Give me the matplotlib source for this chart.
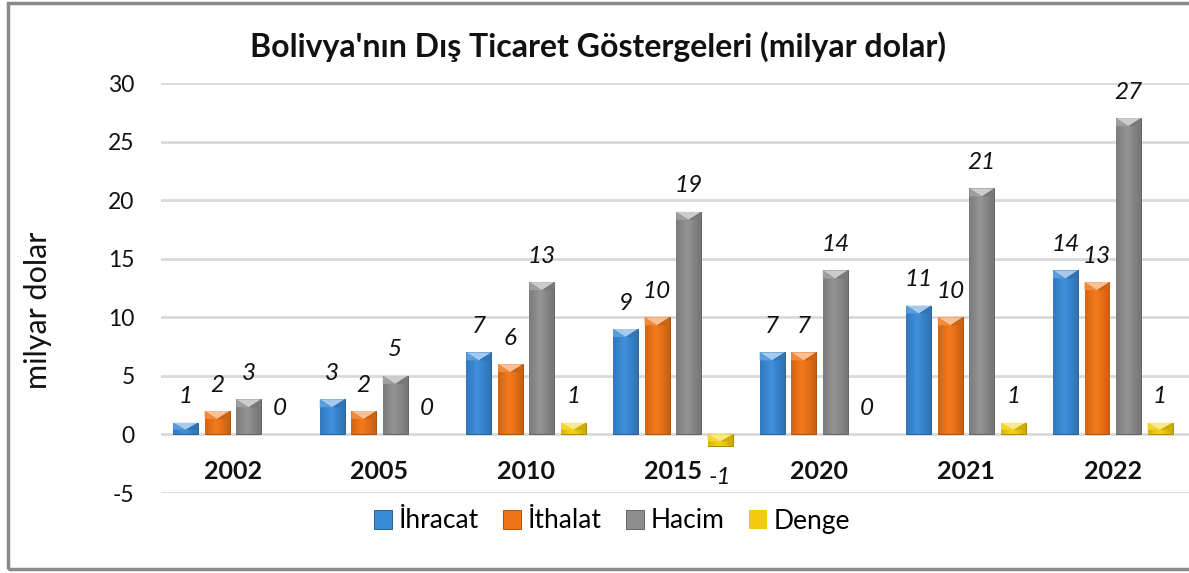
import matplotlib.pyplot as plt
from matplotlib.patches import Polygon, Rectangle
from matplotlib.colors import to_rgb
import numpy as np

years = ['2002', '2005', '2010', '2015', '2020', '2021', '2022']
ihracat = [1, 3, 7, 9, 7, 11, 14]
ithalat = [2, 2, 6, 10, 7, 10, 13]
hacim = [3, 5, 13, 19, 14, 21, 27]
denge = [0, 0, 1, -1, 0, 1, 1]

series = [
    ('İhracat', ihracat, '#3a8ad6'),
    ('İthalat', ithalat, '#ef7417'),
    ('Hacim', hacim, '#8e8e8e'),
    ('Denge', denge, '#f2cc0c'),
]

plt.rcParams['font.family'] = ['Lato', 'DejaVu Sans']
plt.rcParams['axes.unicode_minus'] = False

fig = plt.figure(figsize=(11.89, 5.73), dpi=100)
ax = fig.add_axes([161 / 1189, 80 / 573, 1028 / 1189, 410 / 573])

x = np.arange(len(years))
width = 0.17
step = 0.215
px = 35 / 410  # data units per pixel on the y axis


def shade(color, f):
    r, g, b = to_rgb(color)
    if f >= 0:
        return (r + (1 - r) * f, g + (1 - g) * f, b + (1 - b) * f)
    return (r * (1 + f), g * (1 + f), b * (1 + f))


for k, (name, vals, col) in enumerate(series):
    pos = x + (k - 1.5) * step
    bars = ax.bar(pos, vals, width, color=col, edgecolor=shade(col, -0.3),
                  linewidth=0.7, label=name, zorder=3)
    grad = np.linspace(0, 1, 32)
    grad = 1 - np.abs(grad - 0.45) * 1.6
    for b, v in zip(bars, vals):
        if v == 0:
            b.set_linewidth(0)
            continue
        x0, w = b.get_x(), b.get_width()
        y0, y1 = min(0, v), max(0, v)
        cols = np.array([shade(col, 0.25 * g - 0.2) for g in grad])[None, :, :]
        im = ax.imshow(cols, extent=(x0, x0 + w, y0, y1), aspect='auto',
                       zorder=3, interpolation='bicubic')
        im.set_clip_path(b)
        # bevelled top face
        h = min(8 * px, (y1 - y0) * 0.6)
        ax.add_patch(Polygon([(x0, y1), (x0 + w, y1), (x0 + w * 0.5, y1 - h)],
                             closed=True, color=shade(col, 0.55), lw=0, zorder=4))
        ax.add_patch(Polygon([(x0, y1), (x0 + w * 0.5, y1 - h), (x0, y1 - h)],
                             closed=True, color=shade(col, 0.15), lw=0, zorder=4))
        ax.add_patch(Polygon([(x0 + w, y1), (x0 + w * 0.5, y1 - h), (x0 + w, y1 - h)],
                             closed=True, color=shade(col, -0.15), lw=0, zorder=4))
    for p, v in zip(pos, vals):
        dy = 26 if v >= 0 else -31
        ax.annotate(f'{v}', (p, v), xytext=(0, dy), textcoords='offset pixels',
                    ha='center', va='center', fontsize=17.5, style='italic',
                    color='#111111', zorder=5)

ax.set_xlim(-0.49, 6.52)
ax.set_ylim(-5, 30)
ax.set_yticks(range(-5, 31, 5))
ax.set_xticks([])
ax.tick_params(axis='y', length=0, pad=19, labelsize=16.5, labelcolor='#111111')
ax.grid(axis='y', color='#d9d9d9', linewidth=2, zorder=0)
for s in ax.spines.values():
    s.set_visible(False)

for xi, yr in zip(x, years):
    ax.text(xi, -3.2, yr, ha='center', va='center', fontsize=18,
            fontweight='bold', color='#111111')

fig.text(598 / 1189, 1 - 47 / 573, "Bolivya'nın Dış Ticaret Göstergeleri (milyar dolar)",
         ha='center', va='center', fontsize=23, fontweight='bold', color='#111111')
fig.text(38 / 1189, 1 - 310 / 573, 'milyar dolar', rotation=90, ha='center',
         va='center', fontsize=22, color='#111111')

leg = fig.legend(loc='center', bbox_to_anchor=(612 / 1189, 1 - 521 / 573), ncol=4,
                 frameon=False, fontsize=19, handlelength=0.7, handleheight=0.7,
                 handletextpad=0.25, columnspacing=0.9)

fig.add_artist(Rectangle((8 / 1189, 4 / 573), 1.2, 566 / 573, transform=fig.transFigure,
                         fill=False, edgecolor='#8a8a8a', linewidth=2.5, clip_on=False))

fig.savefig('out.png', dpi=100)
